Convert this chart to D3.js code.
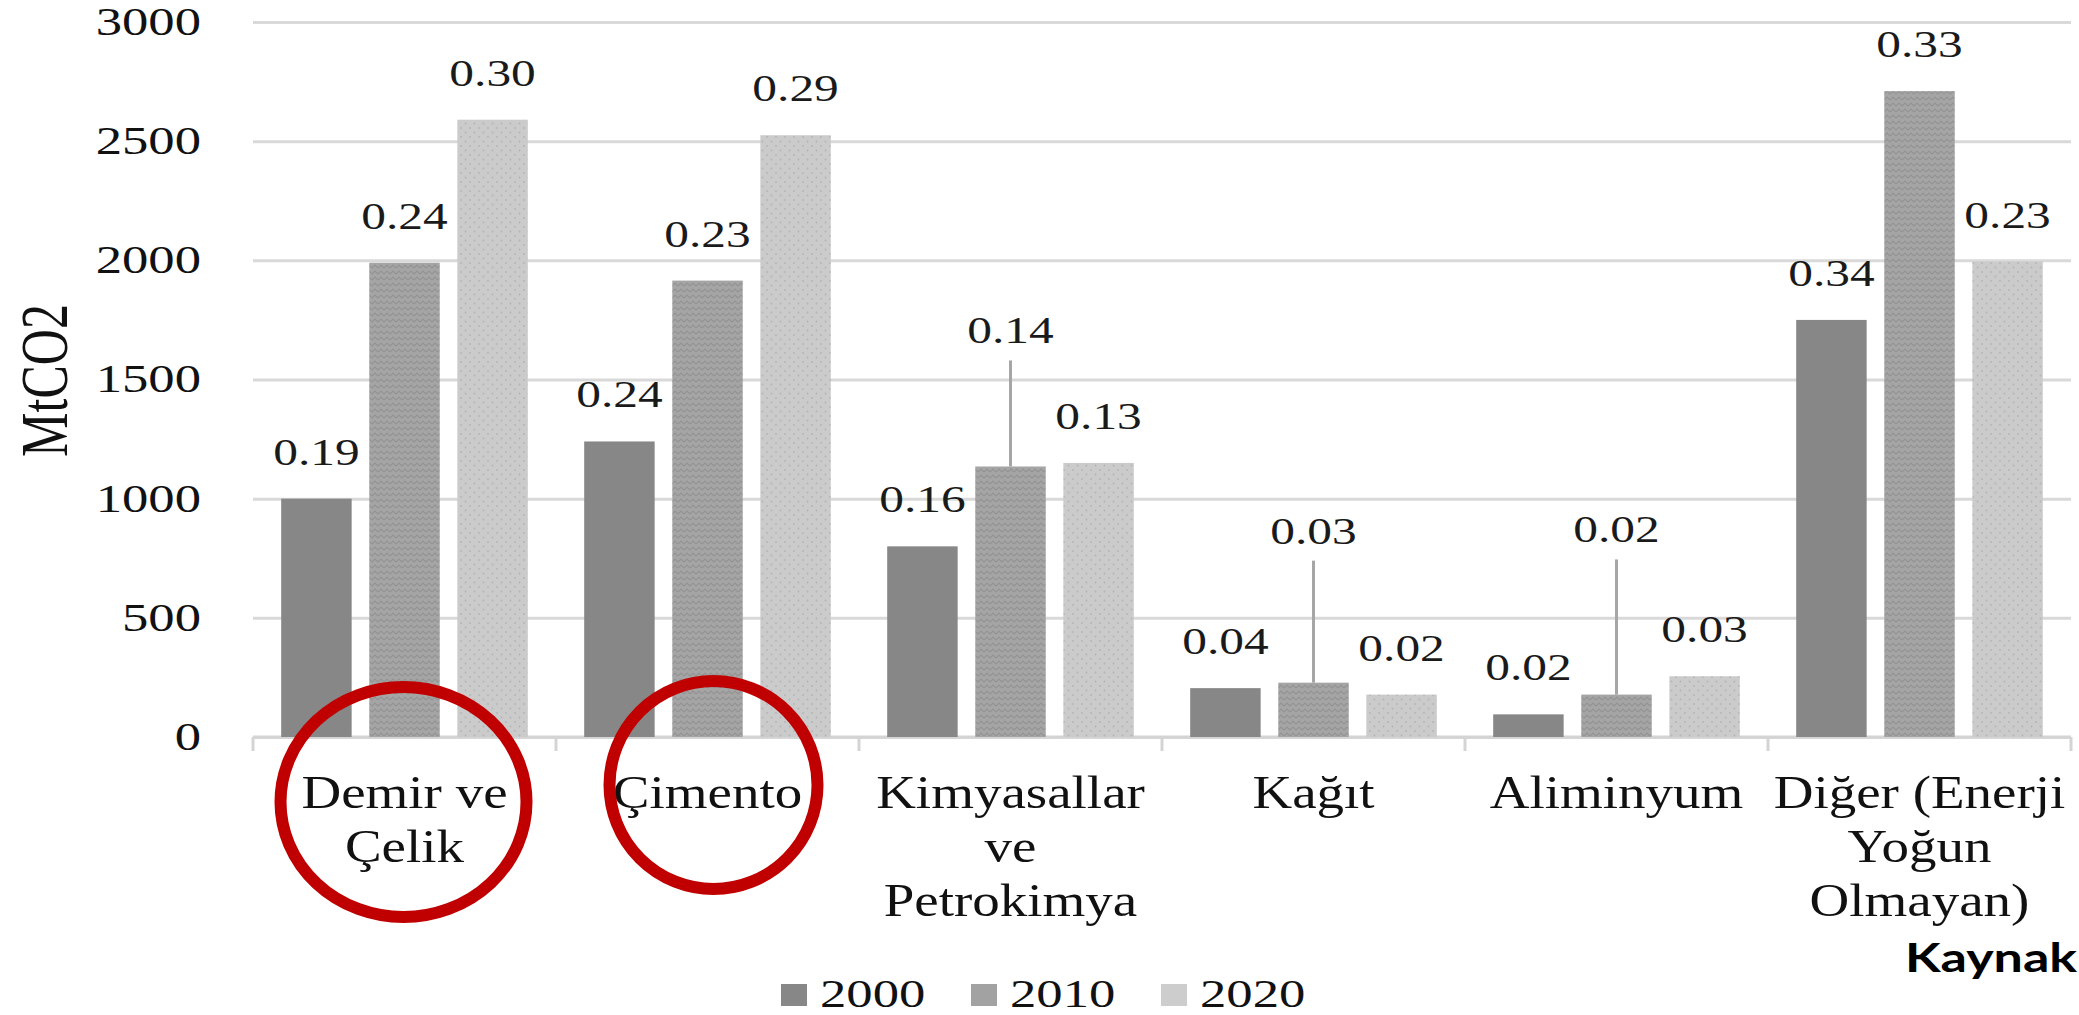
<!DOCTYPE html>
<html>
<head>
<meta charset="utf-8">
<script src="https://cdn.jsdelivr.net/npm/d3@7"></script>
<style>
  html, body { margin: 0; padding: 0; background: #fff; overflow: hidden; }
  svg { display: block; }
</style>
</head>
<body>
<svg id="chart"></svg>
<script>
// ── Data ──
const categories = [
  "Demir ve Çelik",
  "Çimento",
  "Kimyasallar ve Petrokimya",
  "Kağıt",
  "Aliminyum",
  "Diğer (Enerji Yoğun Olmayan)",
];
const catLines = [
  ["Demir ve", "Çelik"],
  ["Çimento"],
  ["Kimyasallar", "ve", "Petrokimya"],
  ["Kağıt"],
  ["Aliminyum"],
  ["Diğer (Enerji", "Yoğun", "Olmayan)"],
];
const years = ["2000", "2010", "2020"];
const v2000 = [1000, 1240, 800, 205, 95, 1750];
const v2010 = [1990, 1915, 1135, 228, 178, 2710];
const v2020 = [2590, 2525, 1150, 178, 255, 1995];
const lab2000 = ["0.19", "0.24", "0.16", "0.04", "0.02", "0.34"];
const lab2010 = ["0.24", "0.23", "0.14", "0.03", "0.02", "0.33"];
const lab2020 = ["0.30", "0.29", "0.13", "0.02", "0.03", "0.23"];
// 2010 labels that were dragged up (value where the label sits, leader line down to bar)
const lead2010 = [null, null, 1580, 740, 745, null];
const yTicks = [0, 500, 1000, 1500, 2000, 2500, 3000];
const highlighted = ["Demir ve Çelik", "Çimento"];

// ── Layout ──
const W = 2079, H = 1015;
const M = { l: 253, r: 8, t: 22, b: 278 };
const SERIF = "'Liberation Serif', 'Times New Roman', serif";

const svg = d3.select("#chart").attr("width", W).attr("height", H);

// ── Patterns for the textured bars ──
const defs = svg.append("defs");
const p10 = defs.append("pattern").attr("id", "p2010")
  .attr("width", 6).attr("height", 6).attr("patternUnits", "userSpaceOnUse");
p10.append("rect").attr("width", 6).attr("height", 6).attr("fill", "#a5a5a5");
p10.append("path").attr("d", "M0,4 L3,1 L6,4").attr("fill", "none")
  .attr("stroke", "#939393").attr("stroke-width", 1.2);
const p20 = defs.append("pattern").attr("id", "p2020")
  .attr("width", 9).attr("height", 9).attr("patternUnits", "userSpaceOnUse");
p20.append("rect").attr("width", 9).attr("height", 9).attr("fill", "#cbcbcb");
p20.append("circle").attr("cx", 2).attr("cy", 2).attr("r", 0.9).attr("fill", "#b4b4b4");
p20.append("circle").attr("cx", 6.5).attr("cy", 6.5).attr("r", 0.9).attr("fill", "#b4b4b4");

const fills = { "2000": "#878787", "2010": "url(#p2010)", "2020": "url(#p2020)" };
const legendFills = { "2000": "#878787", "2010": "#a2a2a2", "2020": "#cdcdcd" };

// ── Scales ──
const x0 = d3.scaleBand().domain(categories).range([M.l, W - M.r]).padding(0);
const x1 = d3.scaleBand().domain(years).range([0, x0.bandwidth()])
  .paddingInner(0.2).paddingOuter(0.32);
const y = d3.scaleLinear().domain([0, 3000]).range([H - M.b, M.t]);

const series = years.map((yr, i) => ({
  yr,
  vals: [v2000, v2010, v2020][i],
  labs: [lab2000, lab2010, lab2020][i],
  lead: i === 1 ? lead2010 : categories.map(() => null),
}));

// ── Y axis with gridlines ──
const yG = svg.append("g").attr("transform", `translate(${M.l},0)`)
  .call(d3.axisLeft(y).tickValues(yTicks).tickFormat(d3.format("d"))
    .tickSize(-(W - M.r - M.l)).tickPadding(52));
yG.select(".domain").remove();
yG.selectAll(".tick line").attr("stroke", "#d9d9d9").attr("stroke-width", 3);
yG.selectAll(".tick text")
  .attr("font-family", SERIF).attr("font-size", 39).attr("fill", "#111")
  .attr("x", 0)
  .attr("transform", "translate(-52,0) scale(1.35,1)");

// ── Bottom axis line + band ticks ──
const y0 = y(0);
svg.append("line")
  .attr("x1", M.l).attr("x2", W - M.r).attr("y1", y0).attr("y2", y0)
  .attr("stroke", "#d4d4d4").attr("stroke-width", 3);
const bounds = categories.map((c) => x0(c)).concat([x0.range()[1]]);
svg.append("g").selectAll("line").data(bounds).join("line")
  .attr("x1", (d) => d).attr("x2", (d) => d)
  .attr("y1", y0).attr("y2", y0 + 14)
  .attr("stroke", "#d4d4d4").attr("stroke-width", 3);

// ── Bars ──
const gBars = svg.append("g");
series.forEach((s) => {
  gBars.append("g").selectAll("rect").data(categories).join("rect")
    .attr("x", (c) => x0(c) + x1(s.yr))
    .attr("width", x1.bandwidth())
    .attr("y", (c, i) => y(s.vals[i]))
    .attr("height", (c, i) => y0 - y(s.vals[i]))
    .attr("fill", fills[s.yr]);
});

// ── Data labels (+ leader lines) ──
const gLab = svg.append("g");
series.forEach((s) => {
  categories.forEach((c, i) => {
    const cx = x0(c) + x1(s.yr) + x1.bandwidth() / 2;
    const top = y(s.vals[i]);
    let base = top - 34;
    if (s.lead[i] != null) {
      const ly = y(s.lead[i]);
      gLab.append("line")
        .attr("x1", cx).attr("x2", cx).attr("y1", ly).attr("y2", top)
        .attr("stroke", "#a6a6a6").attr("stroke-width", 3);
      base = ly - 17;
    }
    gLab.append("text")
      .attr("transform", `translate(${cx},${base}) scale(1.3,1)`)
      .attr("text-anchor", "middle")
      .attr("font-family", SERIF).attr("font-size", 38).attr("fill", "#1a1a1a")
      .text(s.labs[i]);
  });
});

// ── Category labels ──
const gCat = svg.append("g");
categories.forEach((c, i) => {
  const cx = x0(c) + x0.bandwidth() / 2;
  catLines[i].forEach((ln, k) => {
    gCat.append("text")
      .attr("transform", `translate(${cx},${y0 + 71 + k * 54}) scale(1.17,1)`)
      .attr("text-anchor", "middle")
      .attr("font-family", SERIF).attr("font-size", 47).attr("fill", "#111")
      .text(ln);
  });
});

// ── Y axis title ──
svg.append("text")
  .attr("transform", `translate(45,${(y(0) + y(3000)) / 2 + 1}) scale(1.34,1) rotate(-90)`)
  .attr("text-anchor", "middle").attr("dy", "0.33em")
  .attr("font-family", SERIF).attr("font-size", 50).attr("fill", "#111")
  .text("MtCO2");

// ── Red highlight circles ──
const ring = { "Demir ve Çelik": { dx: -1, dy: 65, rx: 123, ry: 115 },
               "Çimento": { dx: 6, dy: 48, rx: 104, ry: 104 } };
svg.append("g").selectAll("ellipse").data(highlighted).join("ellipse")
  .attr("cx", (c) => x0(c) + x0.bandwidth() / 2 + ring[c].dx)
  .attr("cy", (c) => y0 + ring[c].dy)
  .attr("rx", (c) => ring[c].rx).attr("ry", (c) => ring[c].ry)
  .attr("fill", "none").attr("stroke", "#c00000").attr("stroke-width", 12);

// ── Legend ──
const lg = svg.append("g");
years.forEach((yr, i) => {
  const lx = 781 + i * 190;
  lg.append("rect").attr("x", lx).attr("y", 984).attr("width", 26).attr("height", 22)
    .attr("fill", legendFills[yr]);
  lg.append("text")
    .attr("transform", `translate(${lx + 39},1007) scale(1.35,1)`)
    .attr("font-family", SERIF).attr("font-size", 39).attr("fill", "#111")
    .text(yr);
});

// ── Source note at the right edge ──
svg.append("text")
  .attr("transform", "translate(1905,972) scale(1.3,1)")
  .attr("font-family", "Lato, 'Open Sans', sans-serif").attr("font-weight", 700)
  .attr("font-size", 40).attr("fill", "#000")
  .text("Kaynak");
</script>
</body>
</html>
